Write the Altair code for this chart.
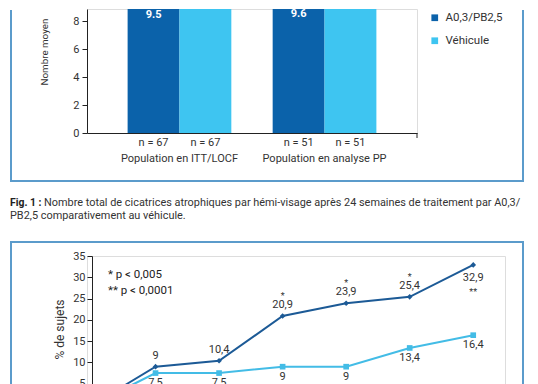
import altair as alt
import pandas as pd

# ---------------- data ----------------
groups = ["Population en ITT/LOCF", "Population en analyse PP"]
series = ["A0,3/PB2,5", "Véhicule"]
bar_active = [9.5, 9.6]
bar_vehicle = [12.2, 12.5]   # tops are above the visible area (estimated)
n_active = [67, 51]
n_vehicle = [67, 51]

weeks = [0, 4, 8, 12, 16, 20, 24]
line_active = [0, 9, 10.4, 20.9, 23.9, 25.4, 32.9]
line_vehicle = [0, 7.5, 7.5, 9, 9, 13.4, 16.4]
signif_active = ["", "", "", "*", "*", "*", "**"]

caption_bold = "Fig. 1 :"
caption_1 = "Nombre total de cicatrices atrophiques par hémi-visage après 24 semaines de traitement par A0,3/"
caption_2 = "PB2,5 comparativement au véhicule."
pnote_1 = "* p < 0,005"
pnote_2 = "** p < 0,0001"

# ---------------- style ----------------
FONT = "Roboto"
TXT = "#333333"
AX = "#222222"
BOX = "#5b9bcb"
DARK_BAR, LIGHT_BAR = "#0b62aa", "#3ec5f1"
DARK_LINE, LIGHT_LINE = "#1c5a96", "#43bce6"
RIGHT = 436   # right border of the frames, relative to the plot's left edge

rows = []
for g, va, vv, na, nv in zip(groups, bar_active, bar_vehicle, n_active, n_vehicle):
    rows.append({"group": g, "series": series[0], "value": va, "nlab": f"n = {na}"})
    rows.append({"group": g, "series": series[1], "value": vv, "nlab": f"n = {nv}"})
bar_df = pd.DataFrame(rows)

def fr(v):
    return f"{v:g}".replace(".", ",")

lrows = []
for w, a, v, s in zip(weeks, line_active, line_vehicle, signif_active):
    lrows.append({"week": w, "serie": series[0], "pct": a, "lab": fr(a), "sig": s})
    lrows.append({"week": w, "serie": series[1], "pct": v, "lab": fr(v), "sig": ""})
line_df = pd.DataFrame(lrows)

one = pd.DataFrame({"d": [0]})


def vr(data, x, ya, yb, **kw):
    return alt.Chart(data).mark_rule(**kw).encode(x=alt.value(x), y=alt.value(ya), y2=alt.value(yb))


def hr(data, xa, xb, y, **kw):
    return alt.Chart(data).mark_rule(**kw).encode(x=alt.value(xa), x2=alt.value(xb), y=alt.value(y))


# ---------------- top chart ----------------
W1, H1 = 330, 124
x1 = alt.X("group:N", sort=groups,
           scale=alt.Scale(paddingInner=0.285, paddingOuter=0.28),
           axis=alt.Axis(title=None, labelAngle=0, ticks=False, labelPadding=19,
                         labelFontSize=11, labelColor=TXT, domainColor=AX, labelFont=FONT))
xo = alt.XOffset("series:N", sort=series, scale=alt.Scale(paddingInner=0, paddingOuter=0))
y1 = alt.Y("value:Q", scale=alt.Scale(domain=[0, H1 / 14], nice=False),
           axis=alt.Axis(values=[0, 2, 4, 6, 8], grid=False, tickSize=5, labelPadding=3,
                         labelFontSize=11, labelColor=TXT, domainColor=AX, tickColor=AX,
                         title="Nombre moyen", titleFontSize=9.8, titleFontWeight="normal",
                         titleColor=TXT, titleAngle=270, titleAlign="left", titleBaseline="middle",
                         titleX=-43, titleY=76, labelFont=FONT, titleFont=FONT))
col1 = alt.Color("series:N", sort=series,
                 scale=alt.Scale(domain=series, range=[DARK_BAR, LIGHT_BAR]),
                 legend=alt.Legend(orient="none", legendX=342, legendY=3, title=None, padding=0,
                                   direction="vertical", symbolType="square", symbolSize=45,
                                   symbolStrokeWidth=0, labelFontSize=11.5, labelColor=TXT,
                                   labelFont=FONT, rowPadding=10, labelOffset=5))

bars = alt.Chart(bar_df).mark_bar(clip=True).encode(x=x1, xOffset=xo, y=y1, color=col1)
vlab = alt.Chart(bar_df).transform_filter(alt.datum.series == series[0]).mark_text(
    dy=15, fontWeight="bold", color="white", fontSize=11, font=FONT, clip=True
).encode(x=x1, xOffset=xo, y=y1, text=alt.Text("value:Q", format=".1f"))
nlab = alt.Chart(bar_df).mark_text(fontSize=11, color=TXT, font=FONT, baseline="middle").encode(
    x=x1, xOffset=xo, y=alt.value(134), text="nlab:N")

endtick = vr(one, W1, H1, H1 + 5, color=AX, strokeWidth=1)
box1 = [vr(one, -76, 1, 172, color=BOX, strokeWidth=2),
        vr(one, RIGHT, 1, 172, color=BOX, strokeWidth=2),
        hr(one, -77, RIGHT + 1, 172, color=BOX, strokeWidth=2)]
spacer = vr(one, 0, 1, 230.5, opacity=0, strokeWidth=1)

CAP = 10.9
cap_b = alt.Chart(one).mark_text(align="left", baseline="middle", fontSize=10.4, font=FONT,
                                 fontWeight="bold", color="#222222").encode(
    x=alt.value(-77), y=alt.value(193.7), text=alt.value(caption_bold))
cap_1 = alt.Chart(one).mark_text(align="left", baseline="middle", fontSize=CAP, font=FONT,
                                 color=TXT).encode(
    x=alt.value(-43), y=alt.value(193.7), text=alt.value(caption_1))
cap_2 = alt.Chart(one).mark_text(align="left", baseline="middle", fontSize=CAP, font=FONT,
                                 color=TXT).encode(
    x=alt.value(-77), y=alt.value(207), text=alt.value(caption_2))

top = alt.layer(bars, vlab, nlab, endtick, *box1, spacer, cap_b, cap_1, cap_2).properties(
    width=W1, height=H1)

# ---------------- bottom chart ----------------
PXW = 15.88          # pixels per week
AXS = 5              # y axis sits 5 px inside the plot's left edge
W2, H2 = round((26 + AXS / PXW) * PXW), 149
x2 = alt.X("week:Q", scale=alt.Scale(domain=[-AXS / PXW, 26], nice=False, zero=False), axis=None)
y2 = alt.Y("pct:Q", scale=alt.Scale(domain=[0, 35], nice=False),
           axis=alt.Axis(values=list(range(0, 40, 5)), grid=False, tickSize=5, labelPadding=2,
                         offset=-AXS,
                         labelFontSize=11, labelColor=TXT, domainColor=AX, tickColor=AX,
                         title="% de sujets", titleFontSize=12, titleFontWeight="normal",
                         titleColor=TXT, titleAngle=270, titleAlign="center",
                         titleBaseline="middle", titleX=-33, titleY=73,
                         labelFont=FONT, titleFont=FONT))
col2 = alt.Color("serie:N", sort=series,
                 scale=alt.Scale(domain=series, range=[DARK_LINE, LIGHT_LINE]), legend=None)
shp = alt.Shape("serie:N", scale=alt.Scale(domain=series, range=["diamond", "square"]), legend=None)

lines = alt.Chart(line_df).mark_line(strokeWidth=2).encode(x=x2, y=y2, color=col2)
pts = alt.Chart(line_df).mark_point(filled=True, opacity=1, size=32).encode(
    x=x2, y=y2, color=col2, shape=shp)

tstyle = dict(fontSize=11, font=FONT, color=TXT, baseline="middle")
lab_up = alt.Chart(line_df).transform_filter(
    (alt.datum.serie == series[0]) & (alt.datum.week < 24)).mark_text(dy=-11, **tstyle).encode(
    x=x2, y=y2, text="lab:N")
lab_last = alt.Chart(line_df).transform_filter(
    (alt.datum.serie == series[0]) & (alt.datum.week == 24)).mark_text(dy=13, **tstyle).encode(
    x=x2, y=y2, text="lab:N")
lab_dn = alt.Chart(line_df).transform_filter(alt.datum.serie == series[1]).mark_text(
    dy=10, **tstyle).encode(x=x2, y=y2, text="lab:N")
sstyle = dict(fontSize=9, font=FONT, color=TXT, baseline="middle")
sig_up = alt.Chart(line_df).transform_filter(
    (alt.datum.sig == "*")).mark_text(dy=-20, **sstyle).encode(x=x2, y=y2, text="sig:N")
sig_dn = alt.Chart(line_df).transform_filter(
    (alt.datum.sig == "**")).mark_text(dy=27, **sstyle).encode(x=x2, y=y2, text="sig:N")

note1 = alt.Chart(one).mark_text(align="left", baseline="middle", fontSize=11.5, font=FONT,
                                 color="#222222").encode(
    x=alt.value(16 + AXS), y=alt.value(19), text=alt.value(pnote_1))
note2 = alt.Chart(one).mark_text(align="left", baseline="middle", fontSize=11.5, font=FONT,
                                 color="#222222").encode(
    x=alt.value(16 + AXS), y=alt.value(35), text=alt.value(pnote_2))

box2 = [vr(one, -76, -14, 200, color=BOX, strokeWidth=2),
        vr(one, RIGHT, -14, 200, color=BOX, strokeWidth=2),
        hr(one, -77, RIGHT + 1, -14, color=BOX, strokeWidth=2)]

bottom = alt.layer(lines, pts, lab_up, lab_last, lab_dn, sig_up, sig_dn, note1, note2,
                   *box2).properties(width=W2, height=H2)

chart = alt.vconcat(top, bottom, spacing=0).resolve_scale(
    color="independent", shape="independent").properties(padding=0).configure_view(
    stroke=None).configure(font=FONT)

chart.save("out.html", embed_options={"renderer": "svg", "actions": False})
